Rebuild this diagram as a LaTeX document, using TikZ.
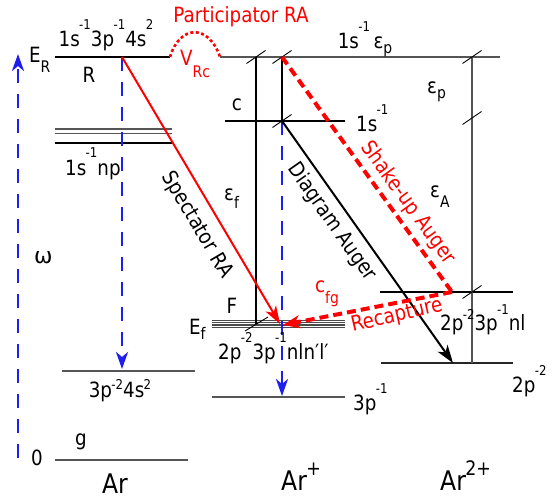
\documentclass[tikz,border=0pt]{standalone}
\usepackage{fontspec}
\setmainfont{DejaVu Sans}[FakeStretch=0.87]
\newfontfamily\wide{DejaVu Sans}
\usetikzlibrary{arrows.meta}
\definecolor{myred}{RGB}{255,0,0}
\definecolor{myblue}{RGB}{30,30,240}
\definecolor{lvl}{RGB}{85,85,85}
\newcommand\spx[2][0.78em]{\kern-0.6pt\raisebox{#1}{\fontsize{13.5}{13.5}\selectfont #2}}
\newcommand\sbx[2][0.5em]{\raisebox{-#1}{\fontsize{16}{16}\selectfont #2}}
\begin{document}
\begin{tikzpicture}[x=1pt,y=-1pt,
  lbl/.style={font=\fontsize{21}{23}\selectfont, inner sep=0pt},
  biglbl/.style={font=\fontsize{27}{30}\selectfont, inner sep=0pt},
  lvlline/.style={draw=lvl, line width=1.9pt},
  blkline/.style={draw=black, line width=1.3pt},
  vline/.style={draw=black, line width=1.1pt},
  tickmark/.style={draw=black, line width=0.9pt},
  bdash/.style={draw=myblue, line width=2.8pt, dash pattern=on 14pt off 11pt, -{Stealth[length=17pt,width=12pt,inset=5pt]}},
  redarrow/.style={draw=myred, line width=2pt, -{Stealth[length=18pt,width=12pt,inset=5pt]}},
  blkarrow/.style={draw=black, line width=2pt, -{Stealth[length=18pt,width=12pt,inset=5pt]}},
  reddash/.style={draw=myred, line width=4pt, dash pattern=on 9pt off 5pt},
  reddot/.style={draw=myred, line width=2.6pt, dash pattern=on 3pt off 2.5pt},
]
\useasboundingbox (0,0) rectangle (554,498);

% coordinates
\coordinate (Rl) at (55,57);
\coordinate (Rr) at (170,57);
\coordinate (Cl) at (220,57);
\coordinate (Cr) at (500,57);
\coordinate (Rx) at (122,57);
\coordinate (Px) at (282,57);
\coordinate (cx) at (282,121);
\coordinate (Fx) at (280,324);
\coordinate (Fr) at (283,325);
\coordinate (Sx) at (452,292);
\coordinate (Ax) at (453,363);
\coordinate (Gx) at (122,369);
\coordinate (Hx) at (282,396);
\coordinate (wb) at (18,458);
\coordinate (wt) at (18,54);

% levels
\draw[blkline] (Rl) -- (Rr);
\draw[lvlline] (Cl) -- (Cr);
\draw[reddot] (Rr) .. controls (180,24) and (209,24) .. (Cl);
\draw[blkline] (225,121) -- (345,121);
\draw[draw=lvl, line width=1.5pt] (55,129) -- (172,129);
\draw[draw=lvl, line width=1.5pt] (55,133.5) -- (172,133.5);
\draw[blkline] (55,143) -- (172,143);
\draw[lvlline] (62,371) -- (195,371);
\draw[lvlline] (55,460) -- (188,460);
\foreach \yy in {320.3,322.7,325.1,327.5}
  \draw[draw=black!70, line width=1.4pt] (212,\yy) -- (345,\yy);
\draw[lvlline] (212,397) -- (345,397);
\draw[blkline] (380,292) -- (513,292);
\draw[draw=black!85, line width=1.5pt] (381,363) -- (513,363);

% verticals
\draw[vline] (256,57) -- (256,324);
\draw[vline] (Px) -- (cx);
\draw[draw=lvl, line width=1.5pt] (472,57) -- (472,363);

% tick marks
\foreach \tx/\ty in {256/57, 282/57, 282/121, 472/57, 472/118, 472/292}
  \draw[tickmark] (\tx-9.5,\ty+6.5) -- (\tx+9.5,\ty-6.5);
\draw[tickmark] (245,331) -- (268,317);

% arrows
\draw[bdash] (wb) -- (wt);
\draw[bdash] (Rx) -- (Gx);
\draw[bdash] (cx) -- (Hx);
\draw[redarrow] (Rx) -- (Fx);
\draw[blkarrow] (cx) -- (Ax);
\draw[reddash] (Px) -- (Sx);
\draw[reddash, -{Stealth[length=17pt,width=13pt,inset=5pt]}] (Sx) -- (Fr);

% labels
\node[lbl, anchor=base west] (ER) at (29,62) {E\sbx[0.5em]{R}};
\node[lbl, anchor=base] (Rconf) at (106,46) {1s\spx[0.8em]{-1}3p\spx[0.8em]{-1}4s\spx[0.8em]{2}};
\node[lbl, anchor=base] (Rlab) at (89,82) {R};
\node[lbl, anchor=base west, text=myred] (VRc) at (180,65) {V\sbx[0.6em]{Rc}};
\node[lbl, anchor=base, text=myred] (PRA) at (241,22) {Participator RA};
\node[lbl, anchor=base] (cont) at (365,48) {1s\spx{-1}\,ε\sbx[0.25em]{p}};
\node[lbl, anchor=base west] (ep) at (427,93) {ε\sbx[0.25em]{p}};
\node[lbl, anchor=base] (clab) at (237,110) {c};
\node[lbl, anchor=base west] (cconf) at (356,131) {1s\spx{-1}};
\node[lbl, anchor=base west] (np) at (65,175) {1s\spx[0.85em]{-1}np};
\node[lbl, anchor=base west] (ef) at (224,200) {ε\sbx[0.4em]{f}};
\node[lbl, anchor=base west] (eA) at (430,197) {ε\sbx[0.5em]{A}};
\node[font=\wide\fontsize{22}{24}\selectfont, inner sep=0pt, anchor=base west] (om) at (34,263) {ω};
\node[lbl, anchor=base] (Flab) at (232,313) {F};
\node[lbl, anchor=base west] (Ef) at (189,334) {E\sbx[0.25em]{f}};
\node[lbl, anchor=base west, text=myred] (cfg) at (315,292) {c\sbx[0.55em]{fg}};
\node[lbl, anchor=base west] (Fconf) at (218,359) {2p\spx{-2}3p\spx{-1}nln′l′};
\node[lbl, anchor=base] (Gconf) at (120,397) {3p\spx[0.35em]{-2}4s\spx[0.35em]{2}};
\node[lbl, anchor=base] (glab) at (81,445) {g};
\node[lbl, anchor=base] (zero) at (37,465) {0};
\node[lbl, anchor=base west] (pm1) at (353,410) {3p\spx{-1}};
\node[lbl, anchor=base west] (nl) at (440,330) {2p\spx[0.5em]{-2}3p\spx[0.75em]{-1}nl};
\node[lbl, anchor=base west] (pm2) at (512,392) {2p\spx{-2}};
\node[biglbl, anchor=base] (Ar) at (115,493) {Ar};
\node[biglbl, anchor=base west] (Arp) at (281,490) {Ar\spx[0.55em]{\fontsize{20}{20}\selectfont +}};
\node[biglbl, anchor=base west] (Arpp) at (440,490) {Ar\spx[0.55em]{\fontsize{20}{20}\selectfont 2+}};

\node[lbl, rotate=-59.5] (spec) at (197,225) {Spectator RA};
\node[lbl, rotate=-55] (diag) at (332,222) {Diagram Auger};
\node[lbl, rotate=-54, text=myred] (shake) at (408,203) {Shake-up Auger};
\node[lbl, rotate=13, text=myred] (recap) at (397,316) {Recapture};
\end{tikzpicture}
\end{document}
